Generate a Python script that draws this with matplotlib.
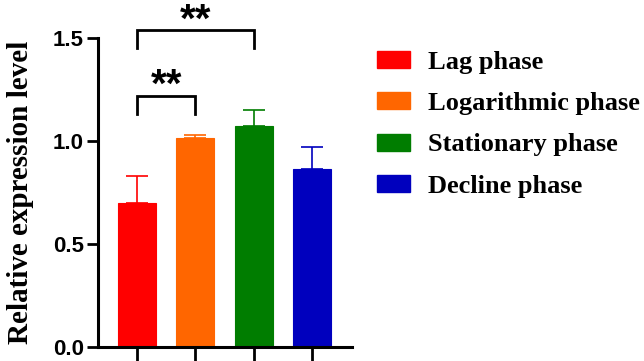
import matplotlib.pyplot as plt
from matplotlib.patches import Patch

# values
phases = ["Lag phase", "Logarithmic phase", "Stationary phase", "Decline phase"]
means = [0.70, 1.013, 1.069, 0.865]
errors = [0.127, 0.016, 0.082, 0.104]
colors = ["#FF0000", "#FF6600", "#007D00", "#0000BE"]

# significance brackets: (left bar, right bar, bracket top, leg bottom, star centre, label)
brackets = [(0, 1, 1.219, 1.127, 1.316, "**"), (0, 2, 1.536, 1.448, 1.63, "**")]

fig = plt.figure(figsize=(6.44, 3.61), dpi=100)
ax = fig.add_axes([0.152, 0.039, 0.395, 0.857])

x = range(len(phases))
ax.bar(x, means, width=0.65, color=colors, edgecolor=colors, linewidth=0.8, zorder=2)
for i in x:
    ax.errorbar(i, means[i], yerr=[[0], [errors[i]]], color=colors[i],
                capsize=8, elinewidth=1.2, capthick=1.2, zorder=1)

for a, b, top, bot, star_y, label in brackets:
    ax.plot([a, a, b, b], [bot, top, top, bot], color="black", lw=2,
            clip_on=False, solid_joinstyle="miter")
    ax.annotate(label, xy=((a + b) / 2, star_y), xytext=(0, -15),
                textcoords="offset points", ha="center", va="baseline",
                fontsize=29, fontweight="bold", family="Liberation Sans",
                annotation_clip=False)

ax.set_xlim(-0.667, 3.68)
ax.set_ylim(0, 1.5)
ax.set_yticks([0, 0.5, 1.0, 1.5])
ax.set_yticklabels(["0.0", "0.5", "1.0", "1.5"])
ax.set_xticks(list(x))
ax.set_xticklabels([])
for s in ["top", "right"]:
    ax.spines[s].set_visible(False)
for s in ["left", "bottom"]:
    ax.spines[s].set_linewidth(2.2)
ax.tick_params(axis="y", length=8, width=2, labelsize=16, pad=2)
ax.tick_params(axis="x", length=12, width=2)
for lab in ax.get_yticklabels():
    lab.set_family("Liberation Sans")
    lab.set_fontweight("bold")

ax.set_ylabel("Relative expression level", fontsize=21, fontweight="bold",
              family="Liberation Serif", labelpad=14)

handles = [Patch(facecolor=c, edgecolor=c) for c in colors]
fig.legend(handles, phases, loc="upper left", bbox_to_anchor=(0.585, 0.86),
           frameon=False, prop={"family": "Liberation Serif", "weight": "bold", "size": 19},
           handlelength=1.25, handleheight=0.6, handletextpad=0.7, labelspacing=0.7,
           borderaxespad=0, borderpad=0)

fig.savefig("out.png", dpi=100)
